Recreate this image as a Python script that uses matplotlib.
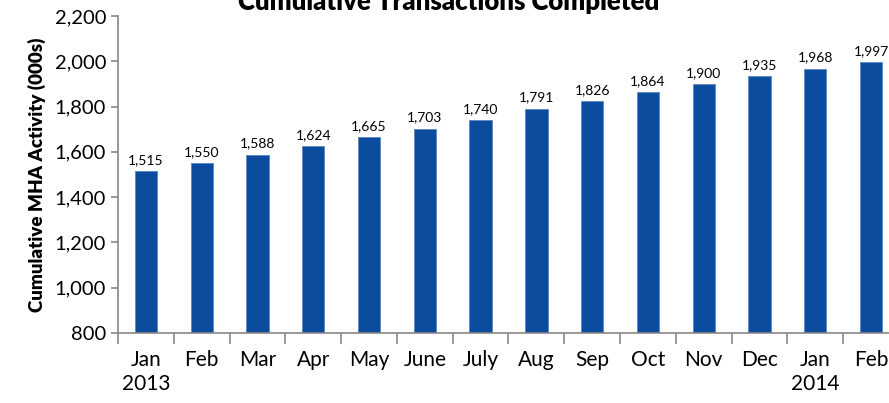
import numpy as np
import matplotlib
matplotlib.use("Agg")
import matplotlib.pyplot as plt
from matplotlib.ticker import FuncFormatter

months = ["Jan\n2013", "Feb", "Mar", "Apr", "May", "June", "July", "Aug",
          "Sep", "Oct", "Nov", "Dec", "Jan\n2014", "Feb"]
activity = [1515, 1550, 1588, 1624, 1665, 1703, 1740, 1791, 1826, 1864,
            1900, 1935, 1968, 1997]

plt.rcParams['font.family'] = ['Lato', 'DejaVu Sans']

fig = plt.figure(figsize=(8.89, 4.03), dpi=100)
ax = fig.add_axes([118 / 889, 70 / 403, 781 / 889, 317 / 403])

x = np.arange(len(months))
ax.bar(x, activity, width=0.4, bottom=0, color="#0b4c9e",
       edgecolor="#5b86c4", linewidth=0.6)

for xi, v in zip(x, activity):
    ax.text(xi, v + 22, f"{v:,}", ha="center", va="bottom", fontsize=10)

ax.set_xlim(-0.5, len(months) - 0.5)
ax.set_ylim(800, 2200)
ax.set_yticks(np.arange(800, 2201, 200))
ax.yaxis.set_major_formatter(FuncFormatter(lambda v, p: f"{int(v):,}"))

ax.set_xticks(x)
ax.set_xticklabels(months, fontsize=15, linespacing=1.3)
ax.set_xticks(np.arange(-0.5, len(months)), minor=True)
ax.tick_params(axis="x", which="major", length=0, pad=12)
ax.tick_params(axis="x", which="minor", length=8, color="#888888", width=1.2)
ax.tick_params(axis="y", length=5, color="#888888", width=1.2, labelsize=14.5)

for s in ["top", "right"]:
    ax.spines[s].set_visible(False)
for s in ["left", "bottom"]:
    ax.spines[s].set_color("#888888")
    ax.spines[s].set_linewidth(1.2)

ax.set_ylabel("Cumulative MHA Activity (000s)", fontsize=13.5, fontweight="heavy",
              labelpad=6)
fig.text(449 / 889, 0.995, "Cumulative Transactions Completed", ha="center",
         va="center", fontsize=18.5, fontweight="heavy")

fig.savefig("out.png", dpi=100)
